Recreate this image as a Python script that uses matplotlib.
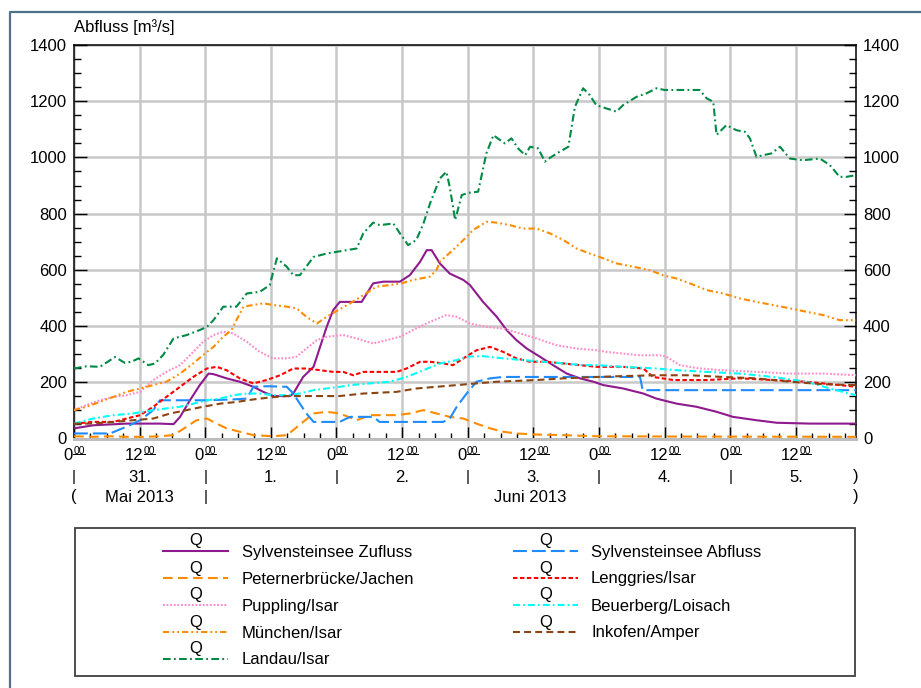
import matplotlib
matplotlib.use("Agg")
import matplotlib.pyplot as plt
from matplotlib.patches import Rectangle
from matplotlib.ticker import MultipleLocator
from matplotlib.font_manager import FontProperties

plt.rcParams['font.family'] = ['Liberation Sans', 'DejaVu Sans']
plt.rcParams['lines.scale_dashes'] = False

# ---- data: (hours since 31.05.2013 00:00, discharge in m3/s) ----
zufluss = [(0, 36), (3.5, 47), (9.6, 53), (15.7, 53), (18.2, 51), (19.4, 77), (21.2, 136),
           (23.0, 190), (24.6, 231), (25.5, 229), (27.9, 214), (30.3, 202), (32.8, 184),
           (34.6, 166), (36.4, 151), (39.5, 151), (40.1, 160), (41.9, 219), (43.8, 255),
           (45.0, 326), (46.2, 397), (47.4, 457), (48.6, 486), (50.5, 486), (52.6, 486),
           (54.7, 552), (56.6, 558), (59.6, 558), (61.4, 581), (63.3, 629), (64.5, 670),
           (65.4, 670), (66.9, 623), (68.7, 587), (71.2, 564), (72.4, 546), (74.8, 486),
           (77.3, 433), (79.1, 386), (80.9, 350), (82.8, 320), (85.2, 291), (87.6, 261),
           (90.1, 231), (92.5, 214), (95.0, 202), (96.8, 190), (100.4, 178), (104.1, 160),
           (106.5, 142), (110.2, 124), (113.8, 113), (117.5, 95), (120.5, 77), (124.8, 65),
           (128.5, 56), (134.6, 53), (143, 53)]

petern = [(0, 8), (3.5, 6), (6.6, 8), (9.6, 6), (12.7, 6), (15.7, 8), (18.2, 12), (20.6, 42),
          (22.4, 65), (24.3, 71), (26.1, 53), (27.9, 36), (30.3, 24), (32.8, 12), (36.4, 8),
          (38.9, 12), (40.1, 30), (41.9, 59), (43.8, 89), (46.2, 95), (48.6, 89), (51.7, 65),
          (54.1, 83), (56.6, 83), (59.0, 83), (61.4, 89), (63.9, 101), (66.3, 89), (68.7, 77),
          (71.2, 71), (73.6, 53), (76.1, 36), (78.5, 24), (80.9, 18), (84.6, 14), (89.5, 12),
          (95.6, 8), (110, 7), (143, 6)]

puppling = [(0, 101), (2.3, 119), (4.75, 136), (7.2, 148), (9.6, 154), (12.1, 166), (14.5, 208),
            (16.9, 237), (19.4, 261), (21.8, 308), (23.6, 344), (25.5, 368), (27.3, 380),
            (29.1, 374), (31.6, 344), (34.0, 308), (36.4, 285), (38.9, 285), (40.7, 291),
            (42.5, 320), (44.4, 350), (46.2, 362), (49.2, 368), (51.7, 356), (54.7, 338),
            (57.2, 350), (59.6, 362), (62.0, 386), (65.1, 415), (68.1, 439), (70.0, 433),
            (72.4, 409), (75.4, 397), (78.5, 391), (81.5, 374), (84.6, 356), (88.2, 332),
            (91.9, 320), (95.6, 314), (97.4, 308), (100.4, 302), (103.5, 296), (107.1, 296),
            (108.3, 291), (110.8, 261), (114.4, 249), (118.7, 243), (124.8, 237), (130.9, 231),
            (137.0, 231), (143, 225)]

muenchen = [(0, 101), (2.3, 113), (4.75, 130), (7.2, 148), (9.6, 166), (12.1, 178), (14.5, 190),
            (16.9, 202), (19.4, 231), (21.8, 267), (23.6, 297), (25.5, 326), (27.3, 362),
            (28.8, 386), (29.7, 421), (31.0, 469), (32.8, 475), (34.6, 481), (36.4, 475),
            (38.9, 469), (40.7, 463), (42.5, 433), (44.4, 409), (46.2, 433), (48.6, 460),
            (50.5, 481), (52.9, 510), (55.3, 540), (57.8, 546), (59.9, 552), (62.0, 564),
            (65.1, 576), (66.3, 600), (66.9, 629), (69.3, 671), (71.2, 706), (73.0, 742),
            (75.4, 771), (77.3, 768), (79.7, 759), (82.1, 747), (84.6, 747), (87.0, 730),
            (89.5, 706), (91.9, 676), (94.3, 658), (96.8, 641), (99.2, 623), (102.3, 611),
            (105.3, 599), (107.7, 581), (110.2, 569), (112.6, 552), (115.7, 528), (118.7, 516),
            (121.8, 498), (124.8, 486), (127.8, 475), (130.9, 463), (133.9, 451), (137.0, 439),
            (140.0, 421), (143, 421)]

landau = [(0, 249), (2.3, 257), (4.75, 255), (7.5, 290), (9.3, 269), (10.5, 273), (11.8, 285),
          (13.6, 261), (14.8, 267), (16.3, 297), (18.2, 356), (20.6, 368), (23.0, 386),
          (24.3, 397), (25.5, 421), (27.3, 469), (29.7, 469), (31.6, 516), (34.0, 522),
          (35.8, 546), (37.1, 641), (38.9, 611), (40.1, 581), (41.3, 581), (43.8, 646),
          (46.2, 658), (49.2, 668), (51.7, 676), (52.9, 730), (54.7, 768), (55.9, 759),
          (58.4, 765), (59.6, 730), (61.1, 688), (62.6, 706), (63.9, 765), (65.1, 836),
          (66.9, 925), (68.1, 949), (68.7, 896), (69.7, 777), (70.9, 866), (72.1, 874),
          (73.9, 878), (75.4, 1014), (76.7, 1079), (77.9, 1062), (78.8, 1050), (80.0, 1068),
          (81.2, 1032), (82.5, 1008), (83.4, 1038), (84.9, 1032), (86.1, 985), (87.3, 1002),
          (88.8, 1020), (90.4, 1038), (91.6, 1180), (93.1, 1246), (94.3, 1222), (95.5, 1186),
          (97.4, 1174), (99.2, 1163), (100.4, 1186), (102.9, 1216), (104.7, 1228),
          (106.5, 1246), (108.0, 1240), (110.2, 1240), (112.6, 1240), (114.4, 1240),
          (115.7, 1210), (116.9, 1198), (117.5, 1080), (119.3, 1115), (121.1, 1097),
          (122.7, 1091), (123.6, 1068), (124.8, 1002), (126.0, 1008), (127.5, 1014),
          (129.1, 1038), (130.9, 996), (133.3, 990), (136.4, 996), (138.2, 973), (140.0, 931),
          (141.3, 931), (143, 937)]

abfluss = [(0, 18), (6.6, 18), (9.6, 42), (12.1, 65), (14.5, 101), (15.7, 136), (18.2, 136),
           (24.3, 136), (29.1, 139), (31.6, 142), (32.8, 184), (35.2, 186), (38.9, 184),
           (40.1, 160), (41.3, 124), (42.5, 89), (43.8, 59), (46.2, 59), (48.6, 59), (49.2, 65),
           (50.5, 77), (54.7, 77), (55.9, 59), (67.5, 59), (68.7, 71), (70.0, 113), (71.8, 160),
           (73.6, 202), (76.1, 214), (78.5, 219), (95.6, 219), (103.5, 219), (104.0, 172),
           (143, 172)]

lenggries = [(0, 53), (3.5, 59), (7.2, 59), (9.6, 71), (12.1, 83), (14.5, 113), (16.9, 148),
             (19.4, 184), (21.8, 219), (24.3, 249), (26.1, 255), (27.9, 243), (30.3, 214),
             (32.8, 196), (35.2, 208), (37.7, 225), (40.1, 249), (42.5, 249), (45.0, 243),
             (47.4, 237), (49.2, 237), (51.1, 225), (52.9, 237), (55.9, 237), (59.0, 237),
             (60.8, 249), (63.3, 273), (65.1, 273), (67.5, 267), (69.3, 261), (71.2, 285),
             (73.6, 314), (76.1, 326), (78.5, 308), (80.9, 285), (83.4, 273), (86.4, 273),
             (89.5, 267), (92.5, 261), (95.6, 255), (100.4, 255), (104.1, 249), (105.9, 219),
             (109.6, 208), (115.7, 208), (121.8, 214), (127.8, 208), (133.9, 202), (137.0, 196),
             (140.0, 190), (143, 184)]

beuerberg = [(0, 53), (3.5, 71), (7.2, 83), (10.8, 89), (14.5, 101), (16.9, 107), (19.4, 113),
             (21.8, 124), (24.3, 136), (26.7, 142), (29.1, 154), (31.6, 160), (34.0, 160),
             (36.4, 154), (38.9, 154), (41.3, 160), (43.8, 172), (46.2, 178), (48.6, 184),
             (50.5, 190), (54.1, 196), (57.8, 202), (60.8, 219), (63.9, 243), (66.9, 267),
             (70.0, 279), (71.8, 291), (74.8, 293), (78.5, 285), (82.1, 279), (85.8, 273),
             (89.5, 267), (93.1, 261), (95.6, 261), (100.4, 255), (106.5, 249), (110.2, 243),
             (115.7, 237), (121.8, 231), (127.8, 219), (133.9, 202), (138.2, 178), (140.6, 166),
             (143, 154)]

inkofen = [(0, 53), (3.5, 53), (7.2, 59), (10.8, 65), (14.5, 71), (17.6, 89), (20.6, 101),
           (23.6, 113), (26.7, 124), (29.7, 130), (32.8, 139), (35.8, 146), (38.9, 151),
           (46.2, 151), (48.6, 151), (52.9, 160), (59.0, 166), (62.6, 178), (66.3, 184),
           (70.0, 190), (73.6, 196), (77.3, 202), (80.9, 205), (84.6, 208), (89.5, 214),
           (95.6, 219), (100.4, 222), (106.5, 225), (112.6, 225), (118.7, 219), (124.8, 214),
           (130.9, 202), (137.0, 193), (143, 190)]

day_labels = ["31.", "1.", "2.", "3.", "4.", "5."]
month_labels = ["Mai 2013", "Juni 2013"]
y_ticks = [0, 200, 400, 600, 800, 1000, 1200, 1400]

# name, data, colour, dash pattern
series = [
    ("Sylvensteinsee Zufluss", zufluss, "#8E1A8E", "-"),
    ("Peternerbrücke/Jachen", petern, "#FF8C00", (0, (7, 3.8))),
    ("Puppling/Isar", puppling, "#FF8CC8", (0, (1.3, 1.3))),
    ("München/Isar", muenchen, "#FF8C00", (0, (4.5, 2.2, 1.3, 2.2, 1.3, 2.2))),
    ("Landau/Isar", landau, "#008A45", (0, (5.5, 2.4, 1.3, 2.4))),
    ("Sylvensteinsee Abfluss", abfluss, "#1E8CFF", (0, (10, 3.6))),
    ("Lenggries/Isar", lenggries, "#FF0000", (0, (3.2, 1.8))),
    ("Beuerberg/Loisach", beuerberg, "#00FFFF", (0, (5, 2.2, 1.3, 2.2))),
    ("Inkofen/Amper", inkofen, "#8B4513", (0, (5, 3))),
]

W, H = 921, 688
fig = plt.figure(figsize=(W / 100, H / 100), dpi=100)
fig.patch.set_facecolor("white")

ax_l, ax_r, ax_t, ax_b = 74, 856, 45, 438.5
ax = fig.add_axes([ax_l / W, 1 - ax_b / H, (ax_r - ax_l) / W, (ax_b - ax_t) / H])
ax.set_xlim(0, 143)
ax.set_ylim(0, 1400)

LW = 1.5
for name, data, col, ls in series:
    t = [p[0] for p in data]
    v = [p[1] for p in data]
    ax.plot(t, v, color=col, lw=LW, linestyle=ls, zorder=3)

ax.set_xticks(range(0, 144, 12))
ax.xaxis.set_minor_locator(MultipleLocator(3))
ax.set_yticks(y_ticks)
ax.yaxis.set_minor_locator(MultipleLocator(50))
ax.grid(True, which="major", color="#C8C8C8", lw=1.8, zorder=0)
ax.set_axisbelow(True)
ax.tick_params(axis="x", which="both", direction="in", top=False, bottom=True,
               labelbottom=False, color="black", width=1)
ax.tick_params(axis="x", which="major", length=9)
ax.tick_params(axis="x", which="minor", length=4.5)
ax.tick_params(axis="y", which="both", direction="in", left=True, right=True,
               labelleft=True, labelright=True, labelsize=12, pad=5, width=1, color="black")
ax.tick_params(axis="y", which="major", length=9)
ax.tick_params(axis="y", which="minor", length=5)
for s in ["left", "right", "top"]:
    ax.spines[s].set_color("black")
    ax.spines[s].set_linewidth(1.1)
ax.spines["bottom"].set_color("#BDBDBD")
ax.spines["bottom"].set_linewidth(2.2)

# overlay in pixel coordinates for frame, legend and x labels
ov = fig.add_axes([0, 0, 1, 1], zorder=-1)
ov.set_xlim(0, W)
ov.set_ylim(H, 0)
ov.axis("off")
ov.patch.set_alpha(0)

# outer frame
ov.plot([10, 10, W + 5], [H + 5, 12, 12], color="#4E7388", lw=1.6, solid_capstyle="butt")

fig.text(ax_l / W, 1 - 27 / H, "Abfluss [m³/s]", fontsize=12, va="center", ha="left")

fig.canvas.draw()
rend = fig.canvas.get_renderer()
fp_main = FontProperties(family="Liberation Sans", size=12)
fp_sup = FontProperties(family="Liberation Sans", size=7.5)


def xpix(t):
    return ax.transData.transform((t, 0))[0]


def tw(s, fp):
    return rend.get_text_width_height_descent(s, fp, ismath=False)[0]


ws = tw("00", fp_sup)
for t in range(0, 144, 12):
    main = "0" if t % 24 == 0 else "12"
    wm = tw(main, fp_main)
    x0 = xpix(t) - (wm + ws) / 2
    ov.text(x0 + wm, 455, main, fontsize=12, ha="right", va="center")
    ov.text(x0 + wm + 0.5, 450.5, "00", fontsize=7.5, ha="left", va="center")
    ov.plot([x0 + wm + 0.5, x0 + wm + ws + 0.5], [454, 454], color="black", lw=0.7)

for k in range(0, 6):
    ov.text(xpix(24 * k), 477, "|", fontsize=11, ha="center", va="center")
    ov.text(xpix(24 * k + 12), 477, day_labels[k], fontsize=12, ha="center", va="center")
ov.text(xpix(143), 477, ")", fontsize=12, ha="center", va="center")
ov.text(xpix(0), 497, "(", fontsize=12, ha="center", va="center")
ov.text(xpix(12), 497, month_labels[0], fontsize=12, ha="center", va="center")
ov.text(xpix(24), 497, "|", fontsize=11, ha="center", va="center")
ov.text(xpix((24 + 143) / 2), 497, month_labels[1], fontsize=12, ha="center", va="center")
ov.text(xpix(143), 497, ")", fontsize=12, ha="center", va="center")

# legend box
ov.add_patch(Rectangle((75, 528), 780, 148, fill=False, edgecolor="#404040", lw=1.3))
col_x = [(163, 228, 242), (513, 578, 591)]
row_y = [551, 578, 605, 632, 659]
for i, (name, data, col, ls) in enumerate(series):
    c = 0 if i < 5 else 1
    r = i if i < 5 else i - 5
    x1, x2, xt = col_x[c]
    y = row_y[r]
    ov.plot([x1, x2], [y, y], color=col, lw=LW, linestyle=ls)
    ov.text((x1 + x2) / 2, y - 10, "Q", fontsize=12, ha="center", va="center")
    ov.text(xt, y + 1, name, fontsize=12, ha="left", va="center")

fig.savefig("out.png", dpi=100)
